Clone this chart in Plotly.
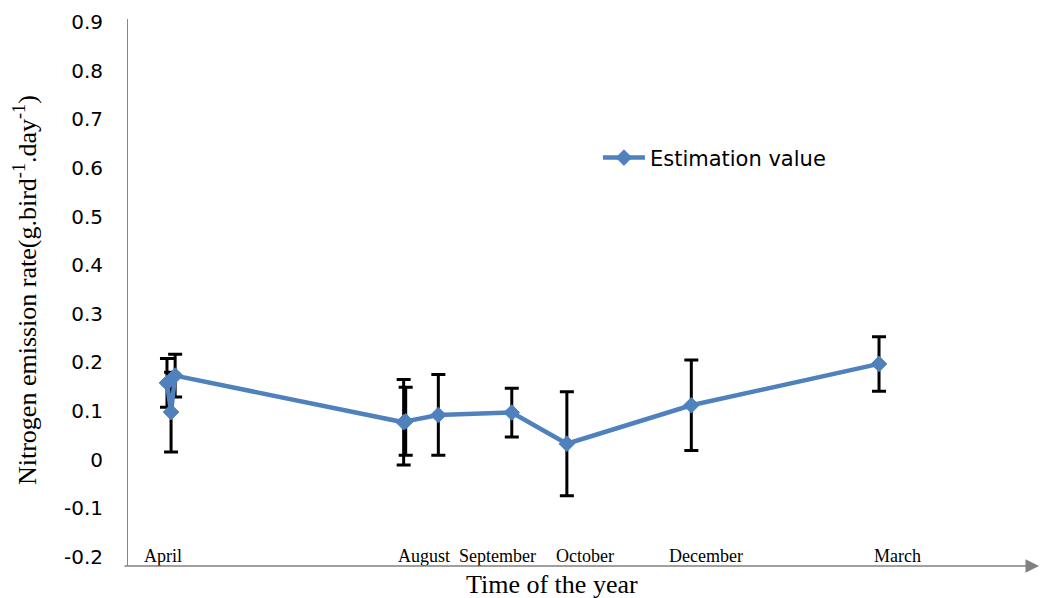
import plotly.graph_objects as go

# Sampling dates, estimated nitrogen emission rate and its error
sample_dates = ["2013-04-05", "2013-04-07", "2013-04-09", "2013-07-30", "2013-07-31",
                "2013-08-16", "2013-09-21", "2013-10-18", "2013-12-18", "2014-03-20"]
emission_rate = [0.158, 0.098, 0.173, 0.077, 0.079, 0.092, 0.097, 0.033, 0.112, 0.197]
emission_err = [0.050, 0.082, 0.044, 0.088, 0.070, 0.083, 0.050, 0.107, 0.093, 0.056]

# Month labels along the time axis
month_positions = ["2013-04-03", "2013-08-09", "2013-09-14", "2013-10-27", "2013-12-25", "2014-03-29"]
month_labels = ["April", "August", "September", "October", "December", "March"]

# Value axis ticks
y_ticks = [-0.2, -0.1, 0, 0.1, 0.2, 0.3, 0.4, 0.5, 0.6, 0.7, 0.8, 0.9]
y_tick_labels = ["-0.2", "-0.1", "0", "0.1", "0.2", "0.3", "0.4", "0.5", "0.6", "0.7", "0.8", "0.9"]

BLUE = "#4F81BD"

fig = go.Figure()
fig.add_trace(go.Scatter(
    x=sample_dates,
    y=emission_rate,
    mode="lines+markers",
    name="Estimation value",
    line=dict(color=BLUE, width=4.5),
    marker=dict(symbol="diamond", size=12, color=BLUE, line=dict(color=BLUE, width=1)),
    error_y=dict(type="data", array=emission_err, visible=True,
                 color="black", thickness=3, width=7),
))

# month names sit just above the time axis line
month_annotations = [
    dict(xref="x", yref="paper", x=d, y=0.018, text=t, showarrow=False,
         xanchor="center", yanchor="middle",
         font=dict(family="Liberation Serif", size=18, color="black"))
    for d, t in zip(month_positions, month_labels)
]

fig.update_layout(
    width=1040,
    height=598,
    margin=dict(l=128, r=10, t=15, b=32),
    plot_bgcolor="white",
    paper_bgcolor="white",
    showlegend=True,
    legend=dict(
        x=0.521, y=0.746, xanchor="left", yanchor="middle",
        font=dict(family="DejaVu Sans", size=21, color="black"),
        bgcolor="rgba(0,0,0,0)", itemwidth=42,
    ),
    xaxis=dict(
        type="date",
        range=["2013-03-16 21:30", "2014-06-02"],
        showticklabels=False,
        ticks="",
        showgrid=False,
        showline=False,
        zeroline=False,
    ),
    yaxis=dict(
        range=[-0.2184, 0.906],
        tickvals=y_ticks,
        ticktext=y_tick_labels,
        showgrid=False,
        zeroline=False,
        showline=True,
        linecolor="#868686",
        linewidth=1,
        ticks="outside",
        ticklen=20,
        tickcolor="rgba(0,0,0,0)",
        tickfont=dict(family="DejaVu Sans", size=20, color="black"),
    ),
    annotations=month_annotations + [
        # horizontal time axis with arrow head
        dict(xref="paper", yref="paper", x=1.0111, y=0, text="", showarrow=True,
             ax=-917, ay=0, axref="pixel", ayref="pixel",
             arrowhead=2, arrowsize=1.8, arrowwidth=1.5, arrowcolor="#808080"),
        dict(xref="paper", yref="paper", x=0.47, y=-0.034, text="Time of the year",
             showarrow=False, xanchor="center", yanchor="middle",
             font=dict(family="Liberation Serif", size=26, color="black")),
        dict(xref="paper", yref="paper", x=-0.1142, y=0.5045,
             text="Nitrogen emission rate(g.bird<sup>-1</sup>.day<sup>-1</sup>)",
             textangle=-90, showarrow=False, xanchor="center", yanchor="middle",
             font=dict(family="Liberation Serif", size=26, color="black")),
    ],
)

fig.write_html("out.html")
